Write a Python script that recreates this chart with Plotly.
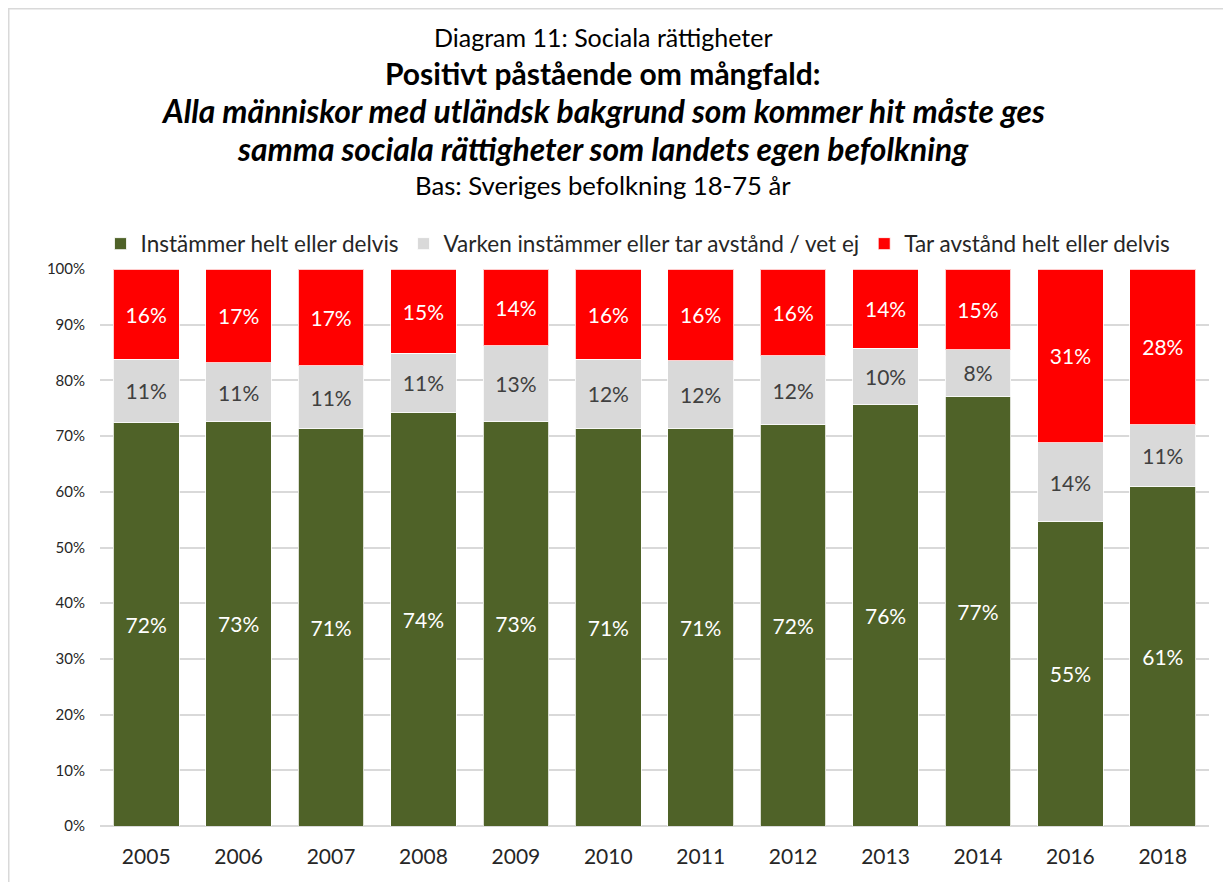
import plotly.graph_objects as go

years = ["2005", "2006", "2007", "2008", "2009", "2010", "2011", "2012", "2013", "2014", "2016", "2018"]
agree = [72.4, 72.6, 71.3, 74.3, 72.7, 71.4, 71.4, 72.0, 75.6, 77.2, 54.7, 61.0]
neutral = [11.4, 10.6, 11.3, 10.6, 13.5, 12.4, 12.1, 12.4, 10.2, 8.3, 14.1, 11.0]
disagree = [16.2, 16.8, 17.4, 15.1, 13.8, 16.2, 16.5, 15.6, 14.2, 14.5, 31.2, 28.0]
agree_lbl = [72, 73, 71, 74, 73, 71, 71, 72, 76, 77, 55, 61]
neutral_lbl = [11, 11, 11, 11, 13, 12, 12, 12, 10, 8, 14, 11]
disagree_lbl = [16, 17, 17, 15, 14, 16, 16, 16, 14, 15, 31, 28]
yticks = [0, 10, 20, 30, 40, 50, 60, 70, 80, 90, 100]

FONT = "Lato"
series = [
    ("Instämmer helt eller delvis", agree, agree_lbl, "#4F6228", "white"),
    ("Varken instämmer eller tar avstånd / vet ej", neutral, neutral_lbl, "#D9D9D9", "#404040"),
    ("Tar avstånd helt eller delvis", disagree, disagree_lbl, "#FF0000", "white"),
]

fig = go.Figure()
for name, vals, lbls, color, tcolor in series:
    fig.add_trace(go.Bar(
        x=years, y=vals, name=name,
        marker=dict(color=color, line=dict(color="rgba(255,255,255,0.8)", width=1)),
        text=[f"{v}%" for v in lbls], textposition="inside", insidetextanchor="middle",
        textangle=0, constraintext="none",
        textfont=dict(family=FONT, size=21, color=tcolor),
        hoverinfo="skip",
    ))

# page has an 8px body margin; figure is sized so the plot lands where the reference has it
OFF = 8
W, H = 1231 - OFF, 882 - OFF
PL, PR, PT, PB = 100, 1209, 269, 826  # plot area in page pixels
L, T = PL - OFF, PT - OFF
R, B = 1231 - PR, 882 - PB
pw, ph = PR - PL, PB - PT

def py(pix):
    return (PB - pix) / ph

def px(pix):
    return (pix - PL) / pw

titles = [
    ("Diagram 11: Sociala rättigheter", 37, 25),
    ("<b>Positivt påstående om mångfald:</b>", 73, 30),
    ("<b><i>Alla människor med utländsk bakgrund som kommer hit måste ges</i></b>", 111, 31.8),
    ("<b><i>samma sociala rättigheter som landets egen befolkning</i></b>", 149, 31.8),
    ("Bas: Sveriges befolkning 18-75 år", 185, 25.7),
]
annotations = []
for txt, ypix, size in titles:
    annotations.append(dict(
        text=txt, x=px(603), y=py(ypix), xref="paper", yref="paper",
        xanchor="center", yanchor="middle", showarrow=False,
        font=dict(family=FONT, size=size, color="black"),
    ))

fig.update_layout(
    width=W, height=H,
    margin=dict(l=L, r=R, t=T, b=B),
    barmode="stack", bargap=0.29,
    plot_bgcolor="white", paper_bgcolor="white",
    font=dict(family=FONT, color="#404040"),
    showlegend=True,
    legend=dict(
        orientation="h", x=px(638), xanchor="center", y=py(244), yanchor="middle",
        font=dict(family=FONT, size=22.5, color="#262626"),
        traceorder="normal", itemwidth=30,
    ),
    xaxis=dict(
        tickfont=dict(family=FONT, size=21, color="#262626"),
        showgrid=False, ticks="", showline=False, ticklabelstandoff=16,
    ),
    yaxis=dict(
        range=[0, 100], tickvals=yticks, ticktext=[f"{v}%" for v in yticks],
        tickfont=dict(family=FONT, size=15, color="#262626"),
        showgrid=True, gridcolor="#D9D9D9", gridwidth=1.5,
        zeroline=True, zerolinecolor="#D9D9D9", zerolinewidth=1.5,
        ticks="", ticklabelstandoff=14,
    ),
    annotations=annotations,
    shapes=[
        dict(type="line", xref="paper", yref="paper", x0=px(OFF), x1=px(1231), y0=py(OFF), y1=py(OFF),
             line=dict(color="#D9D9D9", width=3)),
        dict(type="line", xref="paper", yref="paper", x0=px(OFF), x1=px(OFF), y0=py(OFF), y1=py(882),
             line=dict(color="#D9D9D9", width=3)),
    ],
)

fig.write_html("out.html")
